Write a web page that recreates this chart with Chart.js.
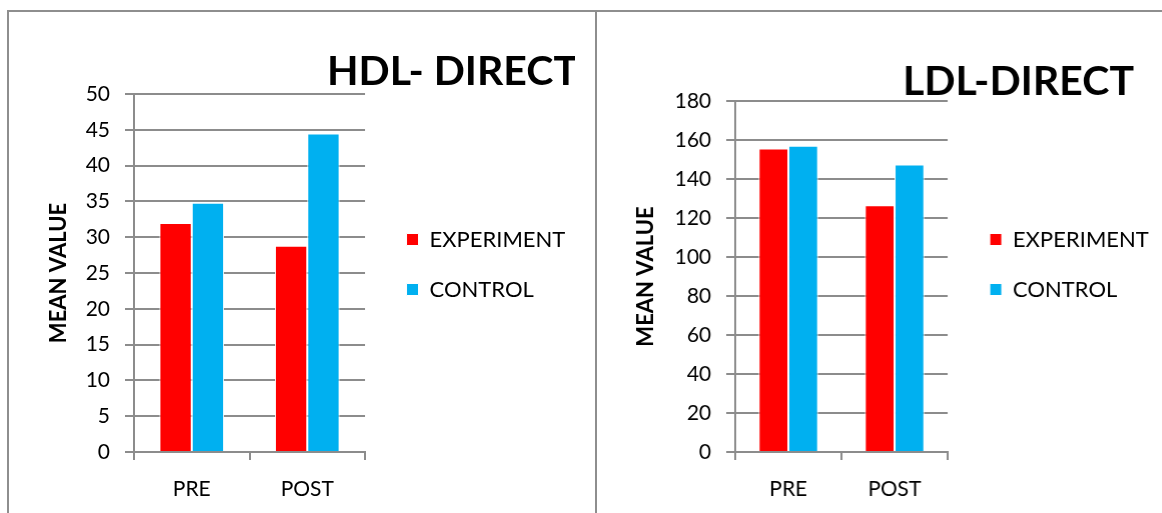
<!DOCTYPE html>
<html>
<head>
<meta charset="utf-8">
<script src="https://cdn.jsdelivr.net/npm/chart.js@4.4.0/dist/chart.umd.min.js"></script>
<style>
  html, body { margin: 0; padding: 0; background: #fff; overflow: hidden; }
  body { width: 1162px; height: 513px; position: relative; }
  .panel { position: absolute; border: 2px solid #8e8e8e; box-sizing: border-box; }
  #leftPanel { left: 7px; top: 10px; width: 590px; height: 600px; }
  #rightPanel { left: 595px; top: 10px; width: 700px; height: 600px; }
  .box { position: absolute; height: 501px; top: 12px; }
  #hdlBox { left: 9px; }
  #ldlBox { left: 597px; }
</style>
</head>
<body>
<div class="panel" id="leftPanel"></div>
<div class="panel" id="rightPanel"></div>
<div class="box" id="hdlBox"><canvas id="hdlChart"></canvas></div>
<div class="box" id="ldlBox"><canvas id="ldlChart"></canvas></div>
<script>
// values
var categories = ['PRE', 'POST'];
var seriesNames = ['EXPERIMENT', 'CONTROL'];
var hdlExperiment = [32, 28.8];
var hdlControl = [34.8, 44.5];
var ldlExperiment = [155.6, 126.6];
var ldlControl = [157, 147.4];

var RED = '#ff0000';
var BLUE = '#00b0f0';
var GRID = '#8c8c8c';
var FONT = 'Lato, "Open Sans", sans-serif';
var LEGEND_FONT = 22, LEGEND_BOX = 12, LEGEND_PAD = 28;

// big bold title sitting over the top right of each chart
var cornerTitle = {
    id: 'cornerTitle',
    afterDraw: function(chart, args, opts) {
        var ctx = chart.ctx;
        ctx.save();
        ctx.font = 'bold ' + opts.size + 'px ' + FONT;
        ctx.fillStyle = '#000';
        ctx.textAlign = 'right';
        ctx.textBaseline = 'alphabetic';
        ctx.fillText(opts.text, opts.right, opts.baseline);
        ctx.restore();
    }
};

// width the legend will take (padding + box + gap + text + 10), so the canvas can be sized around it
function legendWidth() {
    var probe = document.createElement('canvas').getContext('2d');
    probe.font = LEGEND_FONT + 'px ' + FONT;
    var w = 0;
    seriesNames.forEach(function(n) { w = Math.max(w, probe.measureText(n).width); });
    return LEGEND_PAD + LEGEND_BOX + LEGEND_FONT / 2 + w + 10;
}

function makeChart(canvasId, boxId, titleText, expValues, ctrlValues, yMax, yStep, g) {
    var lw = legendWidth();
    document.getElementById(boxId).style.width = (g.legendLeft + lw) + 'px';

    var ctx = document.getElementById(canvasId).getContext('2d');
    return new Chart(ctx, {
        type: 'bar',
        data: {
            labels: categories,
            datasets: [{
                label: seriesNames[0],
                data: expValues,
                backgroundColor: RED,
                borderColor: '#ffffff',
                borderWidth: 1,
                categoryPercentage: 0.56,
                barPercentage: 1,
                xAxisID: 'x',
                yAxisID: 'y'
            }, {
                label: seriesNames[1],
                data: ctrlValues,
                backgroundColor: BLUE,
                borderColor: '#ffffff',
                borderWidth: 1,
                categoryPercentage: 0.56,
                barPercentage: 1,
                xAxisID: 'x',
                yAxisID: 'y'
            }]
        },
        options: {
            responsive: true,
            maintainAspectRatio: false,
            animation: false,
            layout: { padding: { top: 4, left: 0, right: 0, bottom: 0 } },
            scales: {
                x: {
                    position: 'bottom',
                    grid: { display: true, drawOnChartArea: false, drawTicks: true, tickLength: 8, color: GRID, lineWidth: 2, offset: true },
                    border: { display: true, color: GRID, width: 2 },
                    ticks: { color: '#000', font: { family: FONT, size: 21 }, padding: g.xPad },
                    afterFit: function(s) { s.height = g.xHeight; }
                },
                y: {
                    min: 0,
                    max: yMax,
                    ticks: { stepSize: yStep, color: '#000', font: { family: FONT, size: 21 }, padding: 15 },
                    grid: { color: GRID, lineWidth: 2, tickLength: 9 },
                    border: { color: GRID, width: 2 },
                    title: {
                        display: true,
                        text: 'MEAN VALUE',
                        color: '#000',
                        font: { family: FONT, size: 22, weight: 'bold' },
                        padding: { top: g.yTitlePad, bottom: 0 }
                    },
                    afterFit: function(s) { s.width = g.yWidth; }
                },
                topGap: {
                    type: 'category',
                    axis: 'x',
                    position: 'top',
                    grid: { display: false },
                    border: { display: false },
                    ticks: { display: false },
                    afterFit: function(s) { s.height = g.topGap; }
                },
                rightGap: {
                    type: 'linear',
                    axis: 'y',
                    position: 'right',
                    grid: { display: false },
                    border: { display: false },
                    ticks: { display: false },
                    afterFit: function(s) { s.width = g.legendLeft - g.plotRight; }
                }
            },
            plugins: {
                legend: {
                    position: 'right',
                    align: 'center',
                    maxWidth: lw + 2,
                    labels: {
                        boxWidth: LEGEND_BOX,
                        boxHeight: LEGEND_BOX,
                        padding: LEGEND_PAD,
                        color: '#000',
                        font: { family: FONT, size: LEGEND_FONT }
                    }
                },
                tooltip: { enabled: false },
                cornerTitle: { text: titleText, size: 41, right: g.titleRight, baseline: g.titleBase }
            }
        },
        plugins: [cornerTitle]
    });
}

makeChart('hdlChart', 'hdlBox', 'HDL- DIRECT', hdlExperiment, hdlControl, 50, 5, {
    yWidth: 125, plotRight: 356, legendLeft: 369.5, xHeight: 61, xPad: 17, topGap: 78,
    yTitlePad: 37, titleRight: 569, titleBase: 73
});

makeChart('ldlChart', 'ldlBox', 'LDL-DIRECT', ldlExperiment, ldlControl, 180, 20, {
    yWidth: 138, plotRight: 350, legendLeft: 364, xHeight: 61, xPad: 17, topGap: 85,
    yTitlePad: 36, titleRight: 536, titleBase: 83
});
</script>
</body>
</html>
